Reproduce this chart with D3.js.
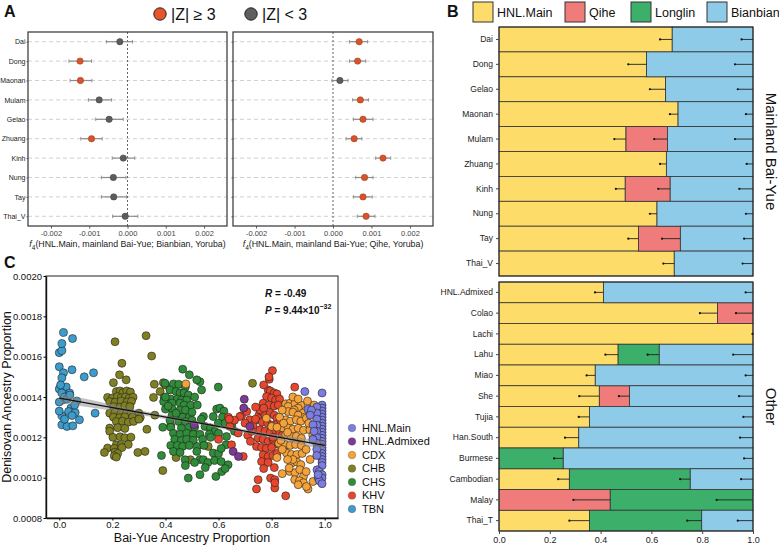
<!DOCTYPE html>
<html><head><meta charset="utf-8">
<script src="https://cdn.jsdelivr.net/npm/d3@7"></script>
<style>body{margin:0;background:#fff}svg{display:block;font-family:Arial,"Liberation Sans",sans-serif}</style>
</head><body><svg id="c" width="779" height="545"></svg>
<script>
// ---------------- Panel A data ----------------
const f4Pops = ["Dai","Dong","Maonan","Mulam","Gelao","Zhuang","Kinh","Nung","Tay","Thai_V"];
const f4Ticks = [-0.002,-0.001,0,0.001,0.002];
const f4Bianbian   = [-0.0002,-0.00124,-0.00123,-0.00074,-0.00048,-0.00094,-0.00011,-0.00037,-0.00036,-0.00006];
const f4BianbianLo = [-0.00055,-0.00153,-0.0015,-0.00102,-0.00083,-0.00122,-0.0004,-0.00068,-0.00068,-0.00039];
const f4BianbianHi = [0.00013,-0.00094,-0.00093,-0.00042,-0.00011,-0.00066,0.00019,-0.00004,-0.00003,0.00027];
const f4BianbianSig = [0,1,1,0,0,1,0,0,0,0];
const f4Qihe   = [0.00068,0.00064,0.00018,0.00071,0.00078,0.00055,0.0013,0.00082,0.00078,0.00086];
const f4QiheLo = [0.00043,0.00043,-0.00003,0.00051,0.00053,0.00034,0.00111,0.00059,0.00053,0.00063];
const f4QiheHi = [0.0009,0.00085,0.00039,0.00092,0.00104,0.00075,0.0015,0.00104,0.00102,0.00109];
const f4QiheSig = [1,1,0,1,1,1,1,1,1,1];

// ---------------- Panel B data ----------------
const sources = ["HNL.Main","Qihe","Longlin","Bianbian"];
const topPops = ["Dai","Dong","Gelao","Maonan","Mulam","Zhuang","Kinh","Nung","Tay","Thai_V"];
const topHNL  = [0.682,0.581,0.656,0.705,0.5,0.659,0.497,0.622,0.549,0.69];
const topQihe = [0,0,0,0,0.163,0,0.177,0,0.165,0];
const topLong = [0,0,0,0,0,0,0,0,0,0];
const topBian = [0.318,0.419,0.344,0.295,0.337,0.341,0.326,0.378,0.286,0.31];
const topHNLse  = [0.048,0.072,0.062,0.032,0.046,0.025,0.037,0.028,0.04,0.043];
const topQiheSe = [0,0,0,0,0.052,0,0.047,0,0.072,0];
const topLongSe = [0,0,0,0,0,0,0,0,0,0];
const topBianSe = [0.045,0.071,0.06,0.028,0.071,0.025,0.054,0.028,0.035,0.041];
const botPops = ["HNL.Admixed","Colao","Lachi","Lahu","Miao","She","Tujia","Han.South","Burmese","Cambodian","Malay","Thai_T"];
const botHNL  = [0.411,0.86,1.0,0.469,0.379,0.395,0.356,0.314,0,0.277,0,0.356];
const botQihe = [0,0.14,0,0,0,0.119,0,0,0,0,0.438,0];
const botLong = [0,0,0,0.162,0,0,0,0,0.253,0.476,0.562,0.442];
const botBian = [0.589,0,0,0.369,0.621,0.486,0.644,0.686,0.747,0.247,0,0.202];
const botHNLse  = [0.033,0.069,0.002,0.05,0.034,0.079,0.042,0.054,0,0.044,0,0.079];
const botQiheSe = [0,0.067,0,0,0,0.042,0,0,0,0,0.145,0];
const botLongSe = [0,0,0,0.046,0,0,0,0,0.036,0.04,0.143,0.057];
const botBianSe = [0.029,0,0,0.078,0.029,0.055,0.038,0.051,0.035,0.047,0,0.06];
const barTicks = [0,0.2,0.4,0.6,0.8,1.0];

// ---------------- Panel C data (x = Bai-Yue proportion, y = Denisovan proportion x 1e-4) ----------------
const tbnPts = [[0.00,16.2],[0.01,16.3],[0.016,17.2],[0.05,16.9],[0.01,16.65],[0.0,15.5],[0.016,15.2],[0.048,15.35],[0.01,14.95],[0.094,15.0],[0.129,15.2],[0.026,14.5],[0.0,14.4],[0.01,14.2],[0.039,14.2],[0.016,13.86],[0.066,13.8],[0.0,13.75],[0.02,14.0],[0.044,13.45],[0.035,13.28],[0.06,13.23],[0.048,13.08],[0.01,13.07],[0.076,12.87],[0.135,13.2],[0.01,12.62],[0.029,12.54],[0.051,12.57],[0.0,13.3],[0.03,13.9],[0.005,14.6],[0.04,14.1],[0.02,12.9],[0.058,13.6]];
const chbPts = [[0.21,16.74],[0.327,17.04],[0.348,16.03],[0.236,15.67],[0.227,15.1],[0.252,14.85],[0.204,14.71],[0.358,14.63],[0.392,14.71],[0.40,14.6],[0.355,13.98],
[0.215,14.27],[0.229,14.3],[0.24,14.22],[0.254,14.3],[0.268,14.25],
[0.182,13.98],[0.2,13.95],[0.219,14.02],[0.233,13.96],[0.249,14.0],[0.263,13.94],[0.278,13.99],
[0.19,13.77],[0.21,13.74],[0.233,13.8],[0.255,13.75],[0.272,13.78],
[0.204,13.53],[0.229,13.5],[0.247,13.56],[0.266,13.52],
[0.19,13.2],[0.21,13.23],[0.232,13.18],[0.254,13.22],[0.27,13.17],[0.3,13.2],
[0.204,13.0],[0.227,12.97],[0.247,13.02],[0.276,13.0],[0.305,12.98],
[0.215,12.78],[0.238,12.8],[0.26,12.75],[0.28,12.79],
[0.19,12.46],[0.22,12.48],[0.247,12.44],[0.19,12.3],
[0.202,12.0],[0.229,12.03],[0.247,11.98],[0.27,12.01],
[0.215,11.63],[0.232,11.6],[0.26,11.65],
[0.182,11.47],[0.207,11.45],[0.236,11.49],
[0.17,11.25],[0.21,11.27],[0.22,11.2],[0.296,11.25],[0.323,11.3],[0.207,11.08],[0.215,11.02],
[0.45,11.9],[0.467,13.03],[0.499,12.29],[0.568,12.47],[0.561,11.55],[0.494,10.89],[0.728,14.68],[0.743,12.87],[0.38,14.27],[0.42,12.6],[0.44,11.0],[0.39,10.35],[0.30,12.9],[0.36,13.1],[0.33,12.4]];
const chsPts = [[0.465,15.38],[0.49,15.1],[0.53,14.76],[0.518,14.85],[0.398,14.68],[0.43,14.65],[0.45,14.63],[0.475,14.5],[0.599,14.49],[0.417,14.35],[0.44,14.27],[0.455,14.2],[0.47,14.2],[0.486,14.1],[0.536,14.35],
[0.395,13.98],[0.42,13.9],[0.445,13.9],[0.46,13.85],[0.48,13.85],[0.393,13.77],[0.425,13.7],[0.455,13.7],[0.47,13.6],[0.495,13.6],
[0.4,13.4],[0.425,13.4],[0.455,13.35],[0.475,13.35],[0.593,13.4],[0.605,13.45],[0.62,13.3],[0.425,13.1],[0.445,13.05],[0.465,13.0],[0.49,13.0],[0.543,13.03],[0.58,13.03],[0.615,13.0],
[0.417,12.85],[0.45,12.78],[0.475,12.78],[0.5,12.85],[0.535,12.9],[0.599,12.7],[0.625,12.7],
[0.39,12.5],[0.42,12.5],[0.46,12.45],[0.49,12.5],[0.51,12.5],[0.549,12.54],[0.57,12.45],[0.586,12.29],
[0.43,12.2],[0.455,12.15],[0.48,12.2],[0.505,12.15],[0.53,12.15],[0.565,12.15],[0.6,12.2],[0.63,12.04],
[0.435,11.9],[0.46,11.85],[0.48,11.9],[0.505,11.85],[0.54,11.9],
[0.42,11.6],[0.445,11.6],[0.465,11.55],[0.49,11.6],[0.52,11.55],[0.628,11.63],[0.545,11.6],
[0.43,11.3],[0.455,11.25],[0.518,11.3],[0.58,11.22],[0.6,11.2],[0.385,11.1],
[0.474,10.89],[0.53,10.9],[0.543,10.89],[0.56,10.75],[0.585,10.85],[0.61,10.8],[0.636,10.64],[0.475,10.6],[0.51,10.75],
[0.486,9.98],[0.53,10.15],[0.59,10.06],[0.612,10.3],[0.55,10.5],[0.625,10.45],
[0.40,14.0],[0.41,13.55],[0.44,13.2],[0.50,13.25],[0.52,13.6],[0.51,14.0],[0.57,12.0],[0.61,11.45],[0.65,12.6],[0.66,12.3]];
const khvPts = [[0.803,15.31],[0.791,14.88],[0.887,14.49],[0.787,14.35],[0.795,14.3],[0.81,14.2],[0.82,14.15],
[0.781,14.02],[0.8,13.95],[0.815,13.85],[0.83,13.9],[0.768,13.69],[0.79,13.6],[0.81,13.55],[0.825,13.6],
[0.687,13.07],[0.718,12.87],[0.753,13.12],[0.76,13.3],[0.775,13.1],[0.795,13.2],[0.81,13.1],[0.82,12.95],
[0.637,13.0],[0.643,12.54],[0.674,12.21],[0.68,13.03],[0.706,13.28],[0.756,13.36],[0.74,13.5],[0.77,13.45],
[0.756,12.37],[0.775,12.3],[0.795,12.25],[0.815,12.35],[0.749,11.96],[0.768,11.9],[0.787,11.8],[0.805,11.9],
[0.743,11.55],[0.762,11.5],[0.78,11.45],[0.8,11.5],[0.649,11.63],[0.768,11.13],[0.787,11.05],[0.805,11.1],[0.82,11.2],
[0.762,10.8],[0.787,10.75],[0.749,9.9],[0.796,9.98],[0.812,9.9],[0.743,9.44],[0.812,9.49],[0.853,9.1],[0.812,9.75],[0.693,11.05],[0.71,12.1],[0.73,12.6],[0.74,12.9],[0.765,12.75],[0.785,12.7],[0.8,12.6],[0.82,12.65],[0.835,12.8],
[0.7,12.7],[0.725,12.3],[0.6,11.9],[0.66,12.85],[0.77,14.6],[0.79,15.0],[0.805,12.0],[0.83,12.3],[0.72,11.8],[0.64,12.9],[0.84,12.1],[0.85,11.6],[0.825,11.65],[0.77,10.45],[0.81,10.5]];
const cdxPts = [[0.477,14.65],
[0.853,13.66],[0.87,13.7],[0.887,13.66],[0.91,13.6],[0.862,13.53],[0.9,13.45],[0.918,13.2],[0.885,13.36],
[0.862,13.28],[0.88,13.25],[0.9,13.1],[0.925,13.0],[0.853,12.87],[0.87,12.8],[0.893,12.87],[0.91,12.8],[0.931,12.95],
[0.843,12.46],[0.862,12.46],[0.88,12.4],[0.9,12.45],[0.92,12.35],[0.944,12.37],[0.853,12.13],[0.873,12.05],[0.893,12.05],[0.912,11.95],[0.962,11.88],
[0.827,11.71],[0.85,11.65],[0.87,11.6],[0.89,11.65],[0.912,11.6],[0.856,11.22],[0.875,11.15],[0.895,11.15],[0.915,11.2],
[0.875,10.72],[0.895,10.78],[0.91,10.65],[0.88,10.9],[0.868,10.31],[0.888,10.25],[0.906,10.4],[0.92,10.06],[0.866,10.48],
[0.887,9.9],[0.905,9.85],[0.92,9.75],[0.937,9.44],[0.9,9.65],[0.931,9.56],[0.956,9.81],
[0.78,12.95],[0.8,12.54],[0.83,13.0],[0.84,13.35],[0.845,12.7],[0.86,12.25],[0.82,12.5],[0.835,11.85],[0.84,11.4],[0.86,10.9],[0.84,10.2],[0.82,11.0],
[0.95,13.3],[0.94,12.7],[0.955,12.1],[0.93,11.4],[0.945,10.9],[0.93,10.3],[0.96,13.6],[0.935,13.8],[0.88,14.0],[0.90,13.9]];
const hnlMainPts = [[0.925,14.27],[0.99,14.2],
[0.99,13.6],[0.99,13.45],[0.99,13.3],[0.99,13.15],[0.99,13.0],[0.99,12.85],[0.99,12.7],[0.99,12.55],[0.99,12.4],[0.99,12.25],[0.99,12.1],[0.99,11.95],[0.99,11.8],[0.99,11.65],[0.99,11.5],[0.99,11.35],[0.99,11.2],[0.99,11.05],[0.99,10.9],[0.99,10.75],[0.99,10.6],
[0.97,13.5],[0.97,13.2],[0.97,12.9],[0.97,12.6],[0.97,12.3],[0.97,12.0],[0.97,11.7],[0.97,11.4],[0.97,11.1],
[0.937,13.4],[0.95,13.35],[0.956,12.62],[0.945,13.1],[0.955,11.9],[0.96,12.3],
[0.971,10.39],[0.98,10.3],[0.99,10.15],[0.975,10.0],[0.99,9.98],[0.98,9.85],[0.99,9.7],[0.975,10.15]];
const hnlAdmixedPts = [[0.508,12.62],[0.697,13.89],[0.695,13.45],[0.718,12.54],[0.655,11.3],[0.675,11.05]];
const regLine = [[0,13.94],[1,11.6]];             // fitted line ends (x, y x1e-4)
const regBand = [[0,0.24],[0.25,0.13],[0.5,0.08],[0.75,0.11],[1,0.21]]; // half-width of CI band
const denTicks = [0.0008,0.0010,0.0012,0.0014,0.0016,0.0018,0.0020];
const byTicks = [0,0.2,0.4,0.6,0.8,1.0];
const groupNames = ["HNL.Main","HNL.Admixed","CDX","CHB","CHS","KHV","TBN"];
const groupColors = ["#7b7de0","#7d3996","#f5a23a","#808022","#2f8c38","#e8462c","#3c9ccc"];

// ---------------- drawing ----------------
const svg = d3.select("#c");
const FONT = "Arial,'Liberation Sans',sans-serif";

[["A",4,17],["B",447,17],["C",4,268]].forEach(([t,x,y]) =>
  svg.append("text").attr("x",x).attr("y",y).attr("font-size",16).attr("font-weight","bold").attr("fill","#111").text(t));

// ---- Panel A ----
const yA = d3.scalePoint().domain(f4Pops).range([32,226]).padding(0.5);
function f4Panel(x0, x1, vals, lo, hi, sig, label, showY) {
  const x = d3.scaleLinear().domain([-0.0026,0.0026]).range([x0,x1]);
  const g = svg.append("g");
  f4Pops.forEach(p => g.append("line").attr("x1",x0).attr("x2",x1).attr("y1",yA(p)).attr("y2",yA(p))
    .attr("stroke","#c4c4c4").attr("stroke-width",0.8).attr("stroke-dasharray","4,3"));
  g.append("line").attr("x1",x(0)).attr("x2",x(0)).attr("y1",32).attr("y2",226)
    .attr("stroke","#555").attr("stroke-width",0.9).attr("stroke-dasharray","2,2");
  f4Pops.forEach((p,i) => {
    const y = yA(p);
    g.append("line").attr("x1",x(lo[i])).attr("x2",x(hi[i])).attr("y1",y).attr("y2",y).attr("stroke","#8c8c8c").attr("stroke-width",1.2);
    [lo[i],hi[i]].forEach(v => g.append("line").attr("x1",x(v)).attr("x2",x(v)).attr("y1",y-1.8).attr("y2",y+1.8).attr("stroke","#8c8c8c").attr("stroke-width",0.9));
    g.append("circle").attr("cx",x(vals[i])).attr("cy",y).attr("r",3.2)
      .attr("fill",sig[i] ? "#d6532c" : "#5c5c5c").attr("stroke",sig[i] ? "#a33a1c" : "#444").attr("stroke-width",0.5);
  });
  g.append("rect").attr("x",x0).attr("y",32).attr("width",x1-x0).attr("height",194).attr("fill","none").attr("stroke","#333").attr("stroke-width",1.2);
  const ax = g.append("g").attr("transform","translate(0,226)")
    .call(d3.axisBottom(x).tickValues(f4Ticks).tickFormat(d => d.toFixed(3)).tickSize(2.5).tickPadding(2).tickSizeOuter(0));
  ax.select(".domain").remove();
  ax.selectAll("text").attr("font-size",7.5).attr("fill","#444").attr("font-family",FONT);
  ax.selectAll("line").attr("stroke","#555");
  const ay = g.append("g").attr("transform",`translate(${x0},0)`).call(d3.axisLeft(yA).tickSize(1.5).tickPadding(1).tickSizeOuter(0));
  ay.select(".domain").remove();
  ay.selectAll("line").attr("stroke","#555");
  if (showY) ay.selectAll("text").attr("font-size",7).attr("fill","#222").attr("font-family",FONT);
  else ay.selectAll("text").remove();
  const t = g.append("text").attr("x",(x0+x1)/2).attr("y",247).attr("text-anchor","middle").attr("font-size",8.8).attr("fill","#222");
  t.append("tspan").attr("font-style","italic").text("f");
  t.append("tspan").attr("font-size",6.5).attr("dy",2.5).text("4");
  t.append("tspan").attr("dy",-2.5).text(label);
}
f4Panel(28,227,f4Bianbian,f4BianbianLo,f4BianbianHi,f4BianbianSig,"(HNL.Main, mainland Bai-Yue; Bianbian, Yoruba)",true);
f4Panel(233,433,f4Qihe,f4QiheLo,f4QiheHi,f4QiheSig,"(HNL.Main, mainland Bai-Yue; Qihe, Yoruba)",false);
svg.append("circle").attr("cx",160).attr("cy",14).attr("r",6.2).attr("fill","#e8552a").attr("stroke","#222").attr("stroke-width",1);
svg.append("text").attr("x",171).attr("y",20).attr("font-size",16).attr("fill","#111").text("|Z| \u2265 3");
svg.append("circle").attr("cx",251).attr("cy",14).attr("r",6.2).attr("fill","#5f5f5f").attr("stroke","#222").attr("stroke-width",1);
svg.append("text").attr("x",262).attr("y",20).attr("font-size",16).attr("fill","#111").text("|Z| < 3");

// ---- Panel B ----
const srcColors = ["#fddc6a","#ef7b7b","#3cb06a","#8dcbe8"];
const xB = d3.scaleLinear().domain([0,1]).range([499,753]);
function barFacet(pops, cols, ses, y0, y1, strip) {
  const y = d3.scaleBand().domain(pops).range([y0,y1]).padding(0);
  const rows = pops.map((p,i) => { const o = {pop:p}; sources.forEach((s,k) => { o[s] = cols[k][i]; o[s+"_se"] = ses[k][i]; }); return o; });
  const stack = d3.stack().keys(sources)(rows);
  const g = svg.append("g");
  stack.forEach((layer,k) => {
    layer.forEach(d => {
      if (d[1]-d[0] <= 0) return;
      g.append("rect").attr("x",xB(d[0])).attr("y",y(d.data.pop)).attr("width",xB(d[1])-xB(d[0])).attr("height",y.bandwidth())
        .attr("fill",srcColors[k]).attr("stroke","#333").attr("stroke-width",0.8);
    });
  });
  stack.forEach((layer,k) => {
    layer.forEach(d => {
      if (d[1]-d[0] <= 0) return;
      const se = d.data[sources[k]+"_se"];
      const cy = y(d.data.pop) + y.bandwidth()/2;
      g.append("line").attr("x1",xB(d[1]-se)).attr("x2",xB(d[1])).attr("y1",cy).attr("y2",cy).attr("stroke","#222").attr("stroke-width",0.9);
      g.append("circle").attr("cx",xB(d[1]-se)).attr("cy",cy).attr("r",1.1).attr("fill","#111");
    });
  });
  g.append("rect").attr("x",499).attr("y",y0).attr("width",254).attr("height",y1-y0).attr("fill","none").attr("stroke","#222").attr("stroke-width",1);
  const ay = g.append("g").attr("transform","translate(499,0)").call(d3.axisLeft(y).tickSize(3).tickSizeOuter(0));
  ay.select(".domain").remove();
  ay.selectAll("line").attr("stroke","#444");
  ay.selectAll("text").attr("font-size",8.5).attr("fill","#222").attr("font-family",FONT);
  g.append("text").attr("transform",`translate(766,${(y0+y1)/2}) rotate(90)`).attr("text-anchor","middle")
    .attr("font-size",15).attr("fill","#111").text(strip);
}
barFacet(topPops,[topHNL,topQihe,topLong,topBian],[topHNLse,topQiheSe,topLongSe,topBianSe],27,276,"Mainland Bai-Yue");
barFacet(botPops,[botHNL,botQihe,botLong,botBian],[botHNLse,botQiheSe,botLongSe,botBianSe],282,531,"Other");
const axB = svg.append("g").attr("transform","translate(0,531)").call(d3.axisBottom(xB).tickValues(barTicks).tickFormat(d3.format(".1f")).tickSize(3).tickSizeOuter(0));
axB.select(".domain").remove();
axB.selectAll("line").attr("stroke","#444");
axB.selectAll("text").attr("font-size",9).attr("fill","#222").attr("font-family",FONT);
const legB = [[473,"HNL.Main"],[565,"Qihe"],[631,"Longlin"],[707,"Bianbian"]];
legB.forEach(([x,t],k) => {
  svg.append("rect").attr("x",x).attr("y",2).attr("width",20).attr("height",20).attr("fill",srcColors[k]).attr("stroke","#333").attr("stroke-width",1);
  svg.append("text").attr("x",x+24).attr("y",17).attr("font-size",12.5).attr("fill","#111").text(t);
});

// ---- Panel C ----
const xC = d3.scaleLinear().domain([-0.05,1.05]).range([46,338]);
const yC = d3.scaleLinear().domain([0.0008,0.0020]).range([518,276]);
const E4 = 1e-4;
const gC = svg.append("g");
gC.append("rect").attr("x",46).attr("y",276).attr("width",292).attr("height",242).attr("fill","none").attr("stroke","#222").attr("stroke-width",1);
const groups = [[tbnPts,6],[chbPts,3],[chsPts,4],[khvPts,5],[cdxPts,2],[hnlMainPts,0],[hnlAdmixedPts,1]];
groups.forEach(([pts,ci]) => {
  gC.selectAll(null).data(pts).enter().append("circle")
    .attr("cx",d => xC(d[0])).attr("cy",d => yC(d[1]*E4)).attr("r",4)
    .attr("fill",groupColors[ci]).attr("stroke","#222").attr("stroke-width",0.6);
});
const lineAt = x => regLine[0][1] + (regLine[1][1]-regLine[0][1])*(x-regLine[0][0])/(regLine[1][0]-regLine[0][0]);
const area = d3.area().curve(d3.curveMonotoneX).x(d => xC(d[0])).y0(d => yC((lineAt(d[0])-d[1])*E4)).y1(d => yC((lineAt(d[0])+d[1])*E4));
gC.append("path").attr("d",area(regBand)).attr("fill","#888").attr("fill-opacity",0.5);
gC.append("line").attr("x1",xC(regLine[0][0])).attr("y1",yC(regLine[0][1]*E4)).attr("x2",xC(regLine[1][0])).attr("y2",yC(regLine[1][1]*E4))
  .attr("stroke","#111").attr("stroke-width",1.3);
const axCy = gC.append("g").attr("transform","translate(46,0)").call(d3.axisLeft(yC).tickValues(denTicks).tickFormat(d3.format(".4f")).tickSize(2.5).tickPadding(1.5).tickSizeOuter(0));
axCy.select(".domain").attr("stroke","#111").attr("stroke-width",1.4);
axCy.selectAll("text").attr("font-size",9.5).attr("fill","#111").attr("font-family",FONT);
const axCx = gC.append("g").attr("transform","translate(0,518)").call(d3.axisBottom(xC).tickValues(byTicks).tickFormat(d3.format(".1f")).tickSize(2.5).tickPadding(1).tickSizeOuter(0));
axCx.select(".domain").attr("stroke","#111").attr("stroke-width",1.4);
axCx.selectAll("text").attr("font-size",9.5).attr("fill","#111").attr("font-family",FONT);
gC.append("text").attr("transform","translate(11,397) rotate(-90)").attr("text-anchor","middle").attr("font-size",12.5).attr("fill","#111").text("Denisovan Ancestry Proportion");
gC.append("text").attr("x",192).attr("y",542).attr("text-anchor","middle").attr("font-size",12.5).attr("fill","#111").text("Bai-Yue Ancestry Proportion");
const tR = gC.append("text").attr("x",265).attr("y",297).attr("font-size",10).attr("font-weight","bold").attr("fill","#111");
tR.append("tspan").attr("font-style","italic").text("R");
tR.append("tspan").text(" = -0.49");
const tP = gC.append("text").attr("x",265).attr("y",314).attr("font-size",10).attr("font-weight","bold").attr("fill","#111");
tP.append("tspan").attr("font-style","italic").text("P");
tP.append("tspan").text(" = 9.44\u00d710");
tP.append("tspan").attr("font-size",7).attr("dy",-5).text("\u221232");
groupNames.forEach((n,i) => {
  const y = 428 + i*13.5;
  svg.append("circle").attr("cx",352).attr("cy",y).attr("r",3.8).attr("fill",groupColors[i]).attr("stroke","#555").attr("stroke-width",0.4);
  svg.append("text").attr("x",362).attr("y",y).attr("dy","0.35em").attr("font-size",11).attr("fill","#111").text(n);
});
</script></body></html>
